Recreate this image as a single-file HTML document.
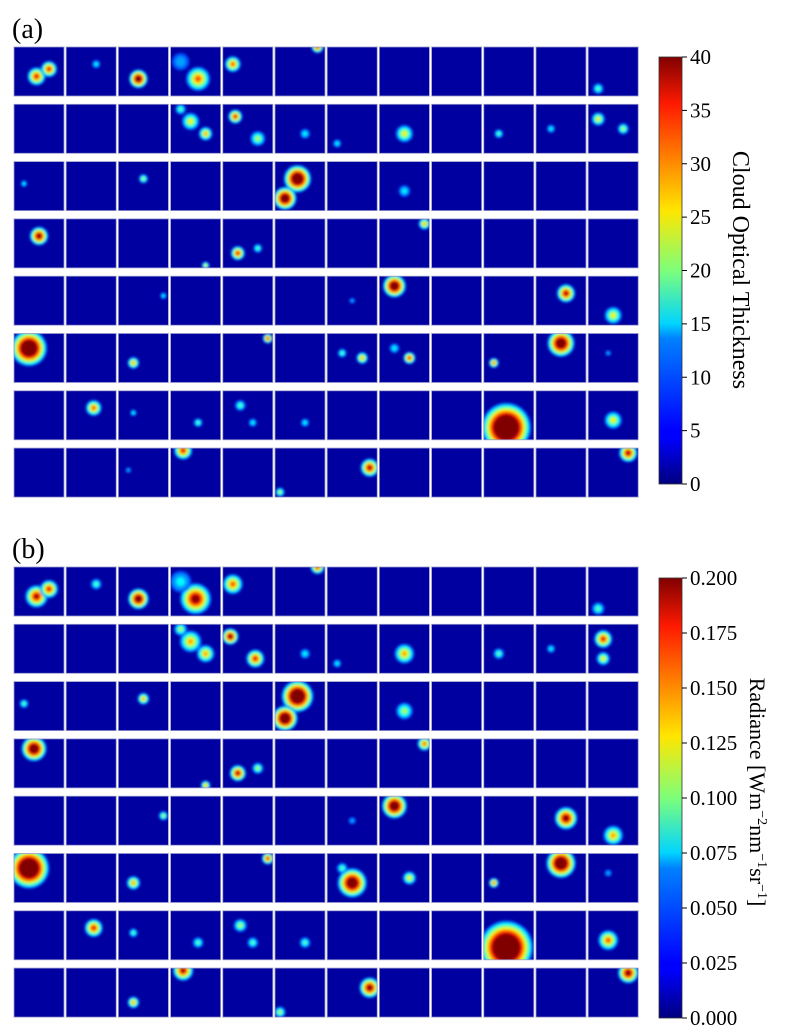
<!DOCTYPE html>
<html><head><meta charset="utf-8"><style>
html,body{margin:0;padding:0;background:#fff;}
svg{display:block;font-family:"Liberation Serif",serif;}
</style></head><body>
<svg id="fig" width="797" height="1035" xmlns="http://www.w3.org/2000/svg">
<defs>
<linearGradient id="jet" x1="0" y1="1" x2="0" y2="0">
<stop offset="0" stop-color="#00007f"/><stop offset="0.11" stop-color="#0000ff"/>
<stop offset="0.125" stop-color="#0000ff"/><stop offset="0.34" stop-color="#0080ff"/>
<stop offset="0.375" stop-color="#00d4ff"/><stop offset="0.5" stop-color="#7dff7a"/>
<stop offset="0.64" stop-color="#ffe600"/><stop offset="0.89" stop-color="#ff1a00"/>
<stop offset="1" stop-color="#800000"/>
</linearGradient>
<filter id="soft" x="-20%" y="-20%" width="140%" height="140%"><feGaussianBlur stdDeviation="1.3"/></filter>
</defs>
<text x="12" y="38" font-size="28">(a)</text>
<text x="12" y="558" font-size="28">(b)</text>
<g id="gA"></g>
<g id="gB"></g>
<rect x="659" y="57" width="23" height="427" fill="url(#jet)" stroke="#333" stroke-width="0.8"/>
<rect x="659" y="578" width="23" height="440" fill="url(#jet)" stroke="#333" stroke-width="0.8"/>
<g id="ticksA"></g>
<g id="ticksB"></g>
<text transform="translate(733,270) rotate(90)" text-anchor="middle" font-size="24">Cloud Optical Thickness</text>
<text transform="translate(750,792) rotate(90)" text-anchor="middle" font-size="22">Radiance [Wm<tspan dy="-8" font-size="14">−2</tspan><tspan dy="8">nm</tspan><tspan dy="-8" font-size="14">−1</tspan><tspan dy="8">sr</tspan><tspan dy="-8" font-size="14">−1</tspan><tspan dy="8">]</tspan></text>
</svg>
<script>
const ticksA=[0,5,10,15,20,25,30,35,40];
const tickLabelsB=["0.000","0.025","0.050","0.075","0.100","0.125","0.150","0.175","0.200"];
const ticksB=[0,0.025,0.05,0.075,0.1,0.125,0.15,0.175,0.2];
// blobs: [row, col, x(0-1), y(0-1), radius px, peak (>1 saturates)]
const blobsA=[
[0,0,0.45,0.6,9,1.0],[0,0,0.7,0.45,8,1.0],[0,1,0.6,0.35,5,0.4],[0,2,0.4,0.65,9,1.3],[0,3,0.55,0.65,12,0.9],[0,3,0.2,0.3,12,0.3],[0,4,0.2,0.35,8,0.9],[0,5,0.85,0.0,6,1.0],[0,11,0.2,0.85,6,0.5],
[1,3,0.4,0.35,9,0.7],[1,3,0.7,0.6,7,0.8],[1,3,0.2,0.1,6,0.5],[1,4,0.25,0.25,7,1.0],[1,4,0.7,0.7,8,0.6],[1,5,0.6,0.6,6,0.4],[1,6,0.2,0.8,5,0.4],[1,7,0.5,0.6,9,0.7],[1,9,0.3,0.6,5,0.5],[1,10,0.3,0.5,5,0.4],[1,11,0.2,0.3,7,0.7],[1,11,0.7,0.5,6,0.6],
[2,2,0.5,0.35,5,0.6],[2,5,0.45,0.35,13,1.5],[2,5,0.2,0.75,11,1.4],[2,7,0.5,0.6,7,0.4],[2,0,0.2,0.45,4,0.4],
[3,0,0.5,0.35,9,1.2],[3,4,0.3,0.7,7,1.0],[3,4,0.7,0.6,5,0.5],[3,7,0.9,0.1,6,0.8],[3,3,0.7,0.95,4,0.7],
[4,7,0.3,0.2,11,1.4],[4,10,0.6,0.35,9,1.1],[4,11,0.5,0.8,9,0.7],[4,6,0.5,0.5,4,0.3],[4,2,0.9,0.4,4,0.4],
[5,0,0.3,0.3,17,1.6],[5,2,0.3,0.6,6,0.8],[5,4,0.9,0.1,5,1.0],[5,6,0.7,0.5,6,0.8],[5,6,0.3,0.4,5,0.5],[5,7,0.6,0.5,6,1.0],[5,7,0.3,0.3,6,0.4],[5,9,0.2,0.6,5,0.9],[5,10,0.5,0.2,13,1.4],[5,11,0.4,0.4,4,0.3],
[6,1,0.55,0.35,8,0.9],[6,2,0.3,0.45,4,0.4],[6,3,0.55,0.65,5,0.5],[6,4,0.35,0.3,6,0.5],[6,4,0.6,0.65,5,0.4],[6,5,0.6,0.65,5,0.4],[6,9,0.45,0.75,23,1.8],[6,11,0.5,0.6,9,0.7],
[7,3,0.25,0.05,9,1.0],[7,5,0.1,0.9,5,0.6],[7,6,0.85,0.4,9,1.1],[7,11,0.8,0.1,9,1.1],[7,2,0.2,0.45,4,0.3]];
const blobsB=[
[0,0,0.45,0.6,11,1.1],[0,0,0.7,0.45,9,1.0],[0,1,0.6,0.35,6,0.5],[0,2,0.4,0.65,10,1.3],[0,3,0.5,0.65,15,1.2],[0,3,0.2,0.3,13,0.4],[0,4,0.2,0.35,10,0.9],[0,5,0.85,0.0,7,1.0],[0,11,0.2,0.85,7,0.5],
[1,3,0.4,0.35,11,0.8],[1,3,0.7,0.6,9,0.8],[1,3,0.2,0.1,7,0.6],[1,4,0.15,0.25,8,1.2],[1,4,0.65,0.7,9,1.0],[1,5,0.6,0.6,6,0.4],[1,6,0.2,0.8,5,0.4],[1,7,0.5,0.6,10,0.8],[1,9,0.3,0.6,6,0.5],[1,10,0.3,0.5,5,0.4],[1,11,0.3,0.3,9,1.0],[1,11,0.3,0.7,7,0.7],
[2,2,0.5,0.35,6,0.8],[2,5,0.45,0.3,15,1.6],[2,5,0.2,0.75,12,1.5],[2,7,0.5,0.6,9,0.6],[2,0,0.2,0.45,5,0.5],
[3,0,0.4,0.2,12,1.4],[3,4,0.3,0.7,8,1.1],[3,4,0.7,0.6,6,0.6],[3,7,0.9,0.1,7,0.9],[3,3,0.7,0.95,5,0.8],
[4,7,0.3,0.2,12,1.4],[4,10,0.6,0.45,11,1.2],[4,11,0.5,0.8,10,0.8],[4,6,0.5,0.5,5,0.3],[4,2,0.9,0.4,5,0.6],
[5,0,0.3,0.3,19,1.7],[5,2,0.3,0.6,7,0.8],[5,4,0.9,0.1,6,1.0],[5,6,0.5,0.6,14,1.4],[5,6,0.3,0.3,6,0.5],[5,7,0.6,0.5,7,0.7],[5,9,0.2,0.6,5,0.9],[5,10,0.5,0.2,14,1.5],[5,11,0.4,0.4,5,0.3],
[6,1,0.55,0.35,9,1.0],[6,2,0.3,0.45,5,0.5],[6,3,0.55,0.65,6,0.5],[6,4,0.35,0.3,7,0.6],[6,4,0.6,0.65,6,0.5],[6,5,0.6,0.65,6,0.5],[6,9,0.45,0.75,25,1.8],[6,11,0.4,0.6,10,0.9],
[7,3,0.25,0.05,10,1.1],[7,5,0.1,0.9,6,0.6],[7,6,0.85,0.4,10,1.2],[7,11,0.8,0.1,10,1.2],[7,2,0.3,0.7,6,0.8]];

const NS="http://www.w3.org/2000/svg";
function jet(v){v=Math.max(0,Math.min(1,v));
 const r=Math.min(4*v-1.5,-4*v+4.5),g=Math.min(4*v-0.5,-4*v+3.5),b=Math.min(4*v+0.5,-4*v+2.5);
 const c=x=>Math.round(255*Math.max(0,Math.min(1,x)));return `rgb(${c(r)},${c(g)},${c(b)})`;}
const tileX=c=>14+c*52.2, tileW=50;
function drawPanel(g,y0,blobs,id){
 for(let r=0;r<8;r++)for(let c=0;c<12;c++){
  const x=tileX(c),y=y0+r*57.3;
  const cp=document.createElementNS(NS,'clipPath');cp.setAttribute('id',id+r+'_'+c);
  const cr=document.createElementNS(NS,'rect');cr.setAttribute('x',x);cr.setAttribute('y',y);cr.setAttribute('width',tileW);cr.setAttribute('height',49);
  cp.appendChild(cr);g.appendChild(cp);
  const t=document.createElementNS(NS,'g');
  
  
  t.setAttribute('clip-path',`url(#${id}${r}_${c})`);
  const bg=document.createElementNS(NS,'rect');bg.setAttribute('x',x);bg.setAttribute('y',y);bg.setAttribute('width',tileW);bg.setAttribute('height',49);bg.setAttribute('fill','#0000a0');
  t.appendChild(bg);
  const inner=document.createElementNS(NS,'g');inner.setAttribute('filter','url(#soft)');
  blobs.filter(b=>b[0]===r&&b[1]===c).forEach(b=>{
   const cx=x+b[2]*tileW,cy=y+b[3]*49,p=b[5];
   [0.12,0.2,0.3,0.4,0.5,0.6,0.7,0.8,0.9,1.0].forEach(l=>{
    if(l>p)return;const rad=b[4]*(1.05-l/p)*1.1;
    if(rad<0.8)return;
    const ci=document.createElementNS(NS,'circle');
    
    
    ci.setAttribute('cx',cx);ci.setAttribute('cy',cy);ci.setAttribute('r',rad);ci.setAttribute('fill',jet(0.1+l*0.9));
    inner.appendChild(ci);});
  });
  t.appendChild(inner);
  g.appendChild(t);
  const br=document.createElementNS(NS,'rect');br.setAttribute('x',x);br.setAttribute('y',y);br.setAttribute('width',tileW);br.setAttribute('height',49);
  br.setAttribute('fill','none');br.setAttribute('stroke','#9999cc');br.setAttribute('stroke-width','0.8');g.appendChild(br);
 }}
drawPanel(document.getElementById('gA'),47,blobsA,'ca');
drawPanel(document.getElementById('gB'),567,blobsB,'cb');
function drawTicks(g,vals,labels,y0,y1,vmax){
 vals.forEach((v,i)=>{const y=y1-(v/vmax)*(y1-y0);
  const l=document.createElementNS(NS,'line');
  
  
  l.setAttribute('x1',682);l.setAttribute('x2',687);l.setAttribute('y1',y);l.setAttribute('y2',y);l.setAttribute('stroke','#000');g.appendChild(l);
  const t=document.createElementNS(NS,'text');
  
  
  t.setAttribute('x',690);t.setAttribute('y',y+7);t.setAttribute('font-size','21');t.textContent=labels[i];g.appendChild(t);});
}
drawTicks(document.getElementById('ticksA'),ticksA,ticksA.map(String),57,484,40);
drawTicks(document.getElementById('ticksB'),ticksB,tickLabelsB,578,1018,0.2);
</script>
</body></html>
